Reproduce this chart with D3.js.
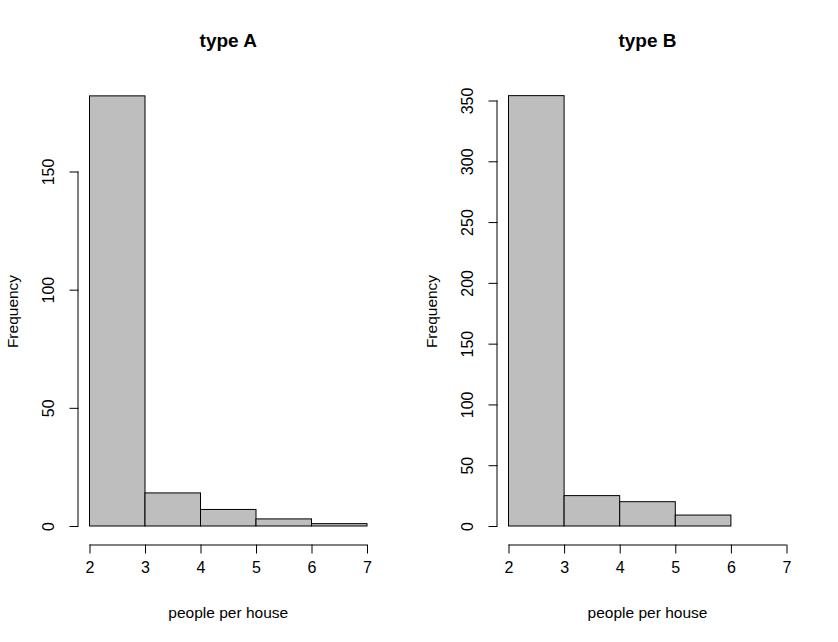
<!DOCTYPE html>
<html>
<head>
<meta charset="utf-8">
<script src="https://cdn.jsdelivr.net/npm/d3@7"></script>
<style>
  body { margin: 0; background: #fff; }
  text { font-family: "Liberation Sans", Arial, sans-serif; fill: #000; }
</style>
</head>
<body>
<svg id="viz"></svg>
<script>
var width = 838;
var height = 642;

// bin edges (people per house) and counts
var binEdges = [2, 3, 4, 5, 6, 7];
var countsA = [182, 14, 7, 3, 1];
var countsB = [354, 25, 20, 9, 0];
var xTicks = [2, 3, 4, 5, 6, 7];
var yTicksA = [0, 50, 100, 150];
var yTicksB = [0, 50, 100, 150, 200, 250, 300, 350];

var svg = d3.select("#viz").attr("width", width).attr("height", height);

function drawPanel(opts) {
    var g = svg.append("g");

    var x = d3.scaleLinear().domain([2, 7]).range([opts.x0, opts.x1]);
    var y = d3.scaleLinear().domain([0, opts.yTop]).range([526, opts.yTopPx]);

    var bins = opts.counts.map(function (c, i) {
        return { x0: binEdges[i], x1: binEdges[i + 1], n: c };
    });

    // bars
    g.selectAll("rect")
        .data(bins)
        .enter().append("rect")
        .attr("x", function (d) { return x(d.x0); })
        .attr("y", function (d) { return y(d.n); })
        .attr("width", function (d) { return x(d.x1) - x(d.x0); })
        .attr("height", function (d) { return y(0) - y(d.n); })
        .attr("fill", "#bebebe")
        .attr("stroke", "#000")
        .attr("stroke-width", 1);

    // x axis
    var xAxis = g.append("g")
        .attr("transform", "translate(0,544.5)")
        .call(d3.axisBottom(x).tickValues(xTicks).tickSize(9).tickPadding(8).tickFormat(d3.format("d")));
    xAxis.selectAll("text").attr("font-size", 16).attr("font-family", "Liberation Sans, Arial, sans-serif");
    xAxis.select(".domain").attr("d", "M" + x(2) + ",0.5H" + x(7));

    // y axis
    var yAxis = g.append("g")
        .attr("transform", "translate(" + opts.yAxisX + ",0)")
        .call(d3.axisLeft(y).tickValues(opts.yTicks).tickSize(9).tickPadding(0).tickFormat(d3.format("d")));
    yAxis.select(".domain").attr("d", "M-0.5," + y(0) + "V" + y(opts.yTicks[opts.yTicks.length - 1]));
    yAxis.selectAll(".tick text")
        .attr("font-size", 16)
        .attr("font-family", "Liberation Sans, Arial, sans-serif")
        .attr("x", null).attr("dy", null)
        .attr("text-anchor", "middle")
        .attr("transform", "translate(-30,0) rotate(-90)")
        .attr("y", 5.5);

    // titles
    var cx = (x(1.8) + x(7.2)) / 2;
    g.append("text")
        .attr("x", cx).attr("y", 47)
        .attr("text-anchor", "middle")
        .attr("font-size", 19)
        .attr("font-weight", "bold")
        .text(opts.title);

    g.append("text")
        .attr("x", cx).attr("y", 618)
        .attr("text-anchor", "middle")
        .attr("font-size", 15.5)
        .text("people per house");

    g.append("text")
        .attr("transform", "translate(" + opts.labelX + ",311.5) rotate(-90)")
        .attr("text-anchor", "middle")
        .attr("font-size", 15.5)
        .text("Frequency");
}

drawPanel({ title: "type A", counts: countsA, x0: 89.5, x1: 367, yTop: 150, yTopPx: 171.5, yTicks: yTicksA, yAxisX: 78.5, labelX: 17.5 });
drawPanel({ title: "type B", counts: countsB, x0: 508.5, x1: 786.5, yTop: 350, yTopPx: 100.5, yTicks: yTicksB, yAxisX: 497.5, labelX: 436.5 });
</script>
</body>
</html>
